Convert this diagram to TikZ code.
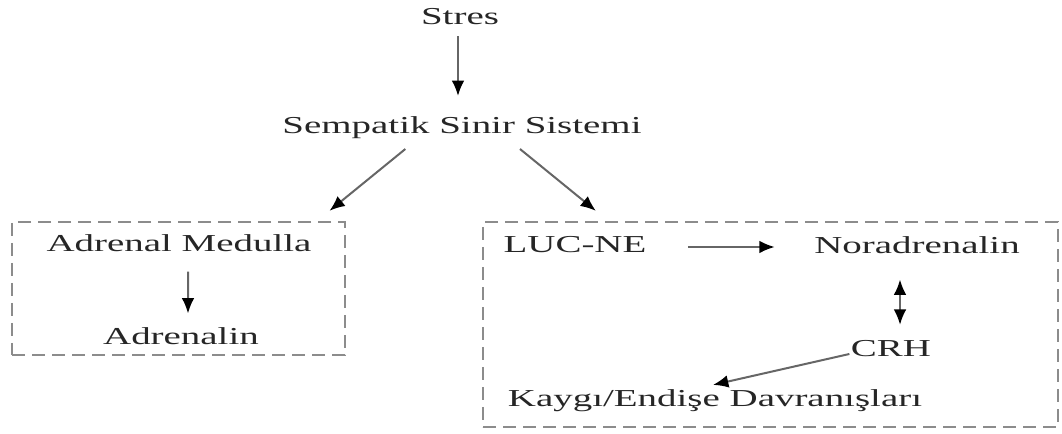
\documentclass[tikz,border=0pt]{standalone}
\usepackage{fontspec}
\setmainfont{Liberation Serif}
\usetikzlibrary{arrows.meta}

\begin{document}
\begin{tikzpicture}[x=0.3pt, y=-0.3pt, -{Latex[length=4.6pt,width=3.8pt,color=black]}, color=black!60, line width=0.6pt,
      every node/.append style={inner sep=0pt}]
	  \tikzstyle{word} = [font=\fontsize{7.3}{9}\selectfont, text=black!85, xscale=1.6]
	  \tikzstyle{box} = [draw=black!45, dash pattern=on 4pt off 2pt, line width=0.7pt]
	  \useasboundingbox (0,0) rectangle (1062,434);
	  % dashed groups
	  \node (lbox) [box, minimum width=99.9pt, minimum height=39.9pt] at (178.5,288.5) {};
	  \node (rbox) [box, minimum width=172.5pt, minimum height=61.5pt] at (770.5,324.5) {};
	  % words
	  \node (stres) [word] at (460,17) {Stres};
	  \node (sss) [word] at (462,128) {Sempatik Sinir Sistemi};
	  \node (am) [word] at (179,243) {Adrenal Medulla};
	  \node (adr) [word] at (181,336) {Adrenalin};
	  \node (luc) [word] at (575,245) {LUC-NE};
	  \node (nor) [word] at (917,245) {Noradrenalin};
	  \node (crh) [word] at (891,349) {CRH};
	  \node (kay) [word] at (715,401) {Kaygı/Endişe Davranışları};
	  % arrows
	  \draw [shorten <=3pt, shorten >=6pt] ([xshift=-0.6pt]stres.south) -- ([xshift=-0.6pt]stres.south |- sss.north);
	  \draw ([xshift=-17pt,yshift=-2.7pt]sss.south) -- ([xshift=-5pt,yshift=3pt]lbox.north east);
	  \draw ([xshift=17.4pt,yshift=-2.7pt]sss.south) -- ([xshift=34.2pt,yshift=3pt]rbox.north west);
	  \draw [shorten <=5.7pt, shorten >=3.9pt] ([xshift=2.7pt]am.south) -- ([xshift=2.1pt]adr.north);
	  \draw [shorten <=12pt, shorten >=11.4pt] ([yshift=-0.6pt]luc.east) -- ([yshift=-0.6pt]luc.east -| nor.west);
	  \draw [{Latex[length=4.6pt,width=3.8pt,color=black]}-{Latex[length=4.6pt,width=3.8pt,color=black]}, shorten <=7.5pt, shorten >=4.5pt]
	    ([xshift=-5.1pt]nor.south) -- ([xshift=-5.1pt]nor.south |- crh.north);
	  \draw ([yshift=-1.5pt]crh.west) -- ([xshift=-0.6pt,yshift=1.2pt]kay.north);
\end{tikzpicture}
\end{document}
